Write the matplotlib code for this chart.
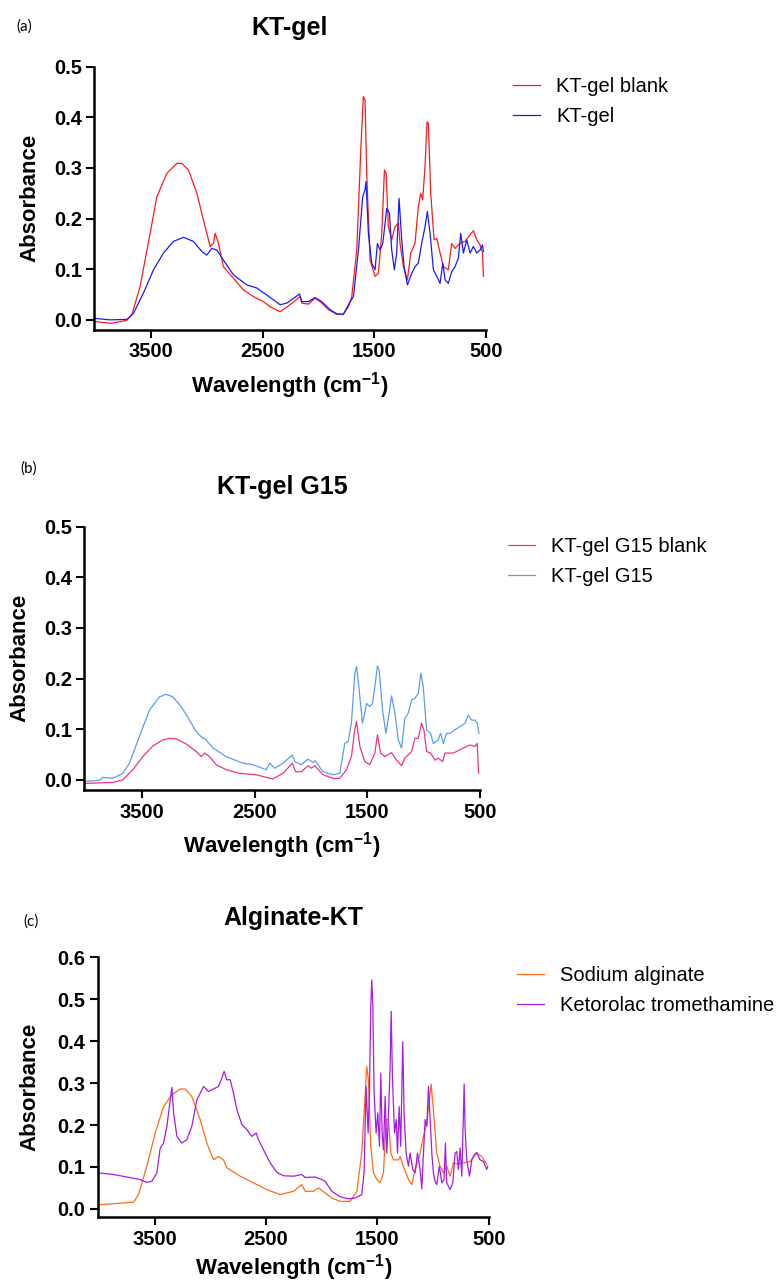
import matplotlib
matplotlib.use("Agg")
import matplotlib.pyplot as plt

plt.rcParams['font.family'] = ['Liberation Sans', 'DejaVu Sans']
plt.rcParams['mathtext.fontset'] = 'custom'
plt.rcParams['mathtext.rm'] = 'Liberation Sans'
plt.rcParams['mathtext.bf'] = 'Liberation Sans:bold'

# ---- (a) KT-gel ----
wn_a_blank = [4008, 3867, 3718, 3673, 3599, 3509, 3449, 3360, 3270, 3225, 3165, 3090, 3031, 2971, 2941,
              2926, 2896, 2852, 2762, 2672, 2583, 2493, 2433, 2344, 2254, 2164, 2149, 2090, 2030, 1985,
              1910, 1836, 1776, 1731, 1701, 1656, 1620, 1597, 1582, 1567, 1537, 1492, 1462, 1432, 1408,
              1393, 1373, 1343, 1313, 1283, 1268, 1238, 1202, 1172, 1134, 1104, 1083, 1065, 1044, 1026,
              1014, 993, 963, 939, 909, 879, 835, 805, 775, 730, 685, 655, 610, 580, 550, 529, 520]
a_blank = [-0.003, -0.007, -0.001, 0.010, 0.066, 0.171, 0.243, 0.289, 0.309, 0.309, 0.296, 0.250, 0.197,
           0.145, 0.151, 0.171, 0.151, 0.105, 0.082, 0.059, 0.046, 0.036, 0.026, 0.016, 0.030, 0.046,
           0.033, 0.031, 0.043, 0.036, 0.020, 0.011, 0.011, 0.026, 0.046, 0.138, 0.336, 0.441, 0.434,
           0.289, 0.118, 0.086, 0.092, 0.171, 0.296, 0.289, 0.184, 0.158, 0.184, 0.191, 0.151, 0.105,
           0.079, 0.132, 0.151, 0.224, 0.250, 0.237, 0.303, 0.391, 0.388, 0.250, 0.158, 0.161, 0.132,
           0.105, 0.099, 0.151, 0.141, 0.151, 0.155, 0.164, 0.176, 0.158, 0.148, 0.132, 0.086]

wn_a_gel = [4008, 3867, 3718, 3658, 3569, 3479, 3389, 3300, 3210, 3121, 3046, 3001, 2956, 2911, 2852,
            2762, 2642, 2553, 2463, 2344, 2284, 2170, 2149, 2090, 2030, 1970, 1895, 1836, 1776, 1731,
            1686, 1641, 1603, 1582, 1573, 1552, 1522, 1492, 1471, 1447, 1423, 1387, 1363, 1343, 1319,
            1298, 1277, 1253, 1232, 1202, 1163, 1134, 1104, 1074, 1044, 1023, 999, 969, 939, 909, 885,
            864, 835, 805, 775, 745, 724, 700, 670, 640, 610, 580, 550, 529, 520]
a_gel = [0.003, 0.000, 0.001, 0.013, 0.053, 0.099, 0.132, 0.155, 0.163, 0.155, 0.135, 0.128, 0.141,
         0.138, 0.118, 0.089, 0.069, 0.063, 0.049, 0.030, 0.033, 0.051, 0.036, 0.036, 0.044, 0.036,
         0.020, 0.012, 0.011, 0.030, 0.046, 0.138, 0.243, 0.257, 0.273, 0.171, 0.112, 0.099, 0.151,
         0.138, 0.151, 0.220, 0.211, 0.138, 0.099, 0.132, 0.240, 0.158, 0.105, 0.069, 0.092, 0.105,
         0.112, 0.151, 0.184, 0.214, 0.171, 0.099, 0.086, 0.072, 0.112, 0.079, 0.072, 0.095, 0.105,
         0.122, 0.171, 0.132, 0.158, 0.132, 0.145, 0.132, 0.138, 0.148, 0.135]

# ---- (b) KT-gel G15 ----
wn_b_blank = [4015, 3758, 3669, 3580, 3491, 3402, 3313, 3254, 3195, 3106, 3017, 2973, 2943, 2899, 2840,
              2751, 2632, 2484, 2396, 2336, 2247, 2165, 2135, 2085, 2025, 1996, 1966, 1892, 1803, 1744,
              1685, 1641, 1611, 1596, 1566, 1522, 1478, 1433, 1410, 1383, 1345, 1285, 1241, 1196, 1167,
              1107, 1078, 1048, 1019, 998, 974, 939, 900, 871, 832, 811, 737, 648, 589, 545, 525, 513]
b_blank = [-0.007, -0.005, 0.000, 0.020, 0.046, 0.067, 0.079, 0.082, 0.081, 0.071, 0.056, 0.046, 0.053,
           0.046, 0.030, 0.020, 0.013, 0.010, 0.005, 0.002, 0.013, 0.033, 0.016, 0.016, 0.028, 0.023,
           0.028, 0.010, 0.003, 0.003, 0.020, 0.046, 0.099, 0.115, 0.066, 0.036, 0.030, 0.053, 0.089,
           0.053, 0.046, 0.054, 0.039, 0.028, 0.043, 0.056, 0.082, 0.082, 0.112, 0.099, 0.056, 0.053,
           0.039, 0.043, 0.036, 0.053, 0.053, 0.063, 0.069, 0.066, 0.072, 0.013]

wn_b_gel = [4015, 3876, 3846, 3758, 3669, 3610, 3521, 3432, 3343, 3284, 3225, 3151, 3077, 3017, 2958,
            2943, 2869, 2751, 2603, 2514, 2396, 2366, 2322, 2247, 2165, 2144, 2085, 2025, 1981, 1966,
            1892, 1803, 1744, 1700, 1670, 1641, 1611, 1596, 1572, 1543, 1522, 1507, 1478, 1454, 1433,
            1410, 1395, 1365, 1335, 1306, 1285, 1255, 1226, 1196, 1167, 1137, 1107, 1078, 1048, 1025,
            1004, 974, 939, 915, 871, 850, 826, 797, 767, 723, 678, 634, 604, 575, 545, 525, 510]
b_gel = [-0.003, -0.001, 0.005, 0.003, 0.013, 0.033, 0.086, 0.138, 0.164, 0.169, 0.164, 0.145, 0.118,
         0.095, 0.082, 0.082, 0.063, 0.046, 0.033, 0.030, 0.020, 0.033, 0.023, 0.033, 0.049, 0.036,
         0.030, 0.041, 0.034, 0.038, 0.016, 0.010, 0.013, 0.072, 0.076, 0.112, 0.211, 0.224, 0.178,
         0.112, 0.132, 0.151, 0.145, 0.151, 0.184, 0.225, 0.217, 0.138, 0.092, 0.132, 0.166, 0.132,
         0.079, 0.063, 0.122, 0.132, 0.158, 0.161, 0.171, 0.211, 0.184, 0.099, 0.092, 0.072, 0.079,
         0.092, 0.072, 0.092, 0.092, 0.099, 0.105, 0.112, 0.128, 0.118, 0.118, 0.112, 0.092]

# ---- (c) Alginate-KT ----
wn_alg = [4002, 3838, 3688, 3644, 3569, 3494, 3419, 3344, 3270, 3225, 3165, 3090, 3030, 2971, 2926,
          2881, 2851, 2731, 2612, 2492, 2372, 2313, 2253, 2178, 2148, 2073, 2028, 1969, 1909, 1834,
          1744, 1684, 1640, 1610, 1595, 1580, 1559, 1535, 1505, 1475, 1445, 1421, 1400, 1379, 1355,
          1310, 1296, 1266, 1221, 1191, 1161, 1122, 1086, 1056, 1032, 1017, 997, 967, 937, 907, 877,
          847, 817, 772, 727, 667, 608, 563, 518]
alg = [0.010, 0.013, 0.016, 0.034, 0.102, 0.181, 0.244, 0.272, 0.286, 0.286, 0.268, 0.213, 0.157,
       0.117, 0.125, 0.117, 0.098, 0.078, 0.062, 0.046, 0.034, 0.038, 0.042, 0.058, 0.042, 0.042,
       0.050, 0.038, 0.026, 0.018, 0.018, 0.042, 0.133, 0.268, 0.340, 0.308, 0.149, 0.086, 0.070,
       0.063, 0.086, 0.213, 0.213, 0.133, 0.117, 0.117, 0.125, 0.102, 0.070, 0.058, 0.094, 0.125,
       0.173, 0.205, 0.260, 0.298, 0.237, 0.133, 0.102, 0.086, 0.102, 0.078, 0.110, 0.106, 0.110,
       0.113, 0.133, 0.125, 0.106]

wn_ktm = [4002, 3868, 3748, 3629, 3569, 3524, 3479, 3449, 3419, 3389, 3359, 3344, 3329, 3299, 3255,
          3210, 3165, 3120, 3060, 3015, 2971, 2926, 2896, 2875, 2851, 2821, 2791, 2761, 2716, 2671,
          2627, 2588, 2567, 2522, 2462, 2402, 2342, 2253, 2178, 2148, 2058, 1999, 1969, 1909, 1834,
          1759, 1699, 1640, 1619, 1601, 1583, 1571, 1559, 1550, 1541, 1529, 1511, 1496, 1481, 1469,
          1457, 1445, 1430, 1415, 1400, 1385, 1376, 1364, 1346, 1331, 1319, 1304, 1290, 1272, 1260,
          1242, 1221, 1206, 1182, 1161, 1140, 1116, 1101, 1086, 1071, 1056, 1041, 1026, 1011, 997,
          982, 967, 943, 922, 901, 889, 877, 847, 823, 802, 787, 772, 757, 742, 727, 721, 712, 697,
          673, 652, 631, 608, 578, 548, 518, 509]
ktm = [0.086, 0.082, 0.076, 0.070, 0.063, 0.066, 0.086, 0.145, 0.157, 0.197, 0.260, 0.290, 0.229,
       0.173, 0.157, 0.165, 0.197, 0.260, 0.292, 0.280, 0.286, 0.292, 0.312, 0.328, 0.308, 0.308,
       0.276, 0.237, 0.201, 0.189, 0.173, 0.181, 0.165, 0.141, 0.110, 0.087, 0.079, 0.078, 0.082,
       0.075, 0.076, 0.070, 0.066, 0.042, 0.029, 0.024, 0.026, 0.034, 0.086, 0.292, 0.181, 0.276,
       0.483, 0.546, 0.490, 0.276, 0.181, 0.229, 0.149, 0.324, 0.181, 0.141, 0.268, 0.133, 0.229,
       0.340, 0.471, 0.308, 0.181, 0.213, 0.133, 0.244, 0.149, 0.399, 0.229, 0.133, 0.102, 0.133,
       0.094, 0.086, 0.133, 0.094, 0.048, 0.133, 0.213, 0.197, 0.292, 0.213, 0.133, 0.086, 0.066,
       0.058, 0.102, 0.062, 0.070, 0.157, 0.062, 0.046, 0.062, 0.133, 0.137, 0.094, 0.145, 0.078,
       0.229, 0.298, 0.189, 0.117, 0.078, 0.117, 0.129, 0.135, 0.117, 0.113, 0.094, 0.102]

panels = [
    dict(rect=[0.1204, 0.7432, 0.4999, 0.2049], ymax=0.5, title="KT-gel", tag="(a)",
         series=[(wn_a_blank, a_blank, "#ff1a1a", "KT-gel blank"),
                 (wn_a_gel, a_gel, "#1a1aff", "KT-gel")],
         tag_xy=(16, 27), title_y=28, xl_y=386, yl_x=30, leg=(513, 77)),
    dict(rect=[0.1077, 0.3852, 0.5054, 0.2049], ymax=0.5, title="KT-gel G15", tag="(b)",
         series=[(wn_b_blank, b_blank, "#f0338a", "KT-gel G15 blank"),
                 (wn_b_gel, b_gel, "#5a9ef0", "KT-gel G15")],
         tag_xy=(20, 469), title_y=487, xl_y=846, yl_x=20, leg=(508, 537)),
    dict(rect=[0.1248, 0.0527, 0.4994, 0.2023], ymax=0.6, title="Alginate-KT", tag="(c)",
         series=[(wn_alg, alg, "#ff6a1a", "Sodium alginate"),
                 (wn_ktm, ktm, "#a81ae6", "Ketorolac tromethamine")],
         tag_xy=(23, 922), title_y=918, xl_y=1268, yl_x=30, leg=(517, 966)),
]

W, H = 783, 1285
fig = plt.figure(figsize=(W / 100, H / 100), dpi=100)

for p in panels:
    ax = fig.add_axes(p["rect"])
    for wn, ab, col, lab in p["series"]:
        ax.plot(wn, ab, color=col, lw=0.9, label=lab)
    ax.set_xlim(4010, 500)
    ax.set_ylim(-0.02, p["ymax"])
    ax.set_xticks([3500, 2500, 1500, 500])
    yt = [i / 10 for i in range(int(round(p["ymax"] * 10)) + 1)]
    ax.set_yticks(yt)
    ax.set_yticklabels(["%.1f" % v for v in yt])
    for s in ["top", "right"]:
        ax.spines[s].set_visible(False)
    for s in ["left", "bottom"]:
        ax.spines[s].set_linewidth(1.8)
    ax.tick_params(axis="both", width=1.5, length=6, labelsize=14.5, direction="out", pad=3)
    for t in ax.get_xticklabels() + ax.get_yticklabels():
        t.set_fontweight("bold")

    cx = (p["rect"][0] + p["rect"][2] / 2)
    fig.text(cx, 1 - p["title_y"] / H, p["title"], ha="center", va="center",
             fontsize=18, fontweight="bold")
    fig.text(cx, 1 - p["xl_y"] / H, r"Wavelength (cm$^{\mathbf{-1}}$)", ha="center", va="center",
             fontsize=16, fontweight="bold")
    cy = p["rect"][1] + p["rect"][3] / 2
    fig.text(p["yl_x"] / W, cy, "Absorbance", ha="center", va="center", rotation=90,
             fontsize=16, fontweight="bold")
    fig.text(p["tag_xy"][0] / W, 1 - p["tag_xy"][1] / H, p["tag"], ha="left", va="center",
             fontsize=11, family=["Lato", "DejaVu Sans"])
    fig.legend(handles=ax.get_lines(), loc="upper left",
               bbox_to_anchor=(p["leg"][0] / W, 1 - p["leg"][1] / H),
               frameon=False, fontsize=14.5, handlelength=1.35, handletextpad=0.8,
               labelspacing=0.55, borderpad=0, borderaxespad=0)

fig.savefig("out.png", dpi=100)
